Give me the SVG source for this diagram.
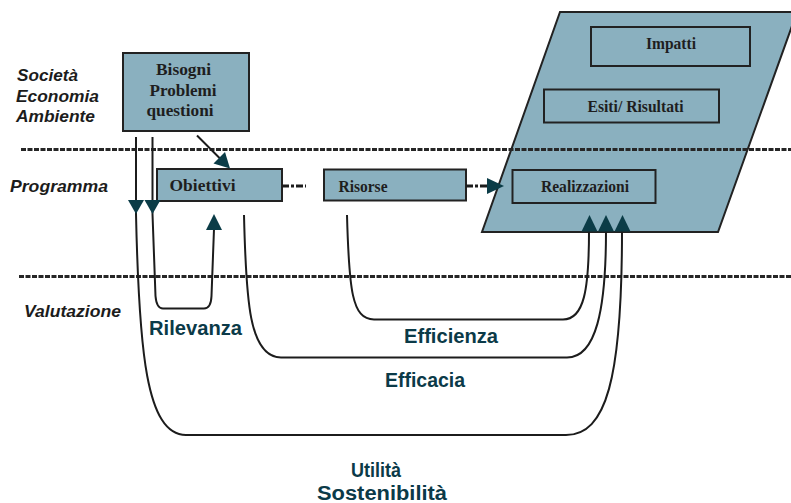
<svg xmlns="http://www.w3.org/2000/svg" width="791" height="503" viewBox="0 0 791 503">
  <style>
    .box { fill: #8ab0bf; stroke: #222; stroke-width: 2; }
    .boxtxt { font-family: "Liberation Serif", "DejaVu Serif", serif; font-weight: bold; font-size: 16px; fill: #1e1e1e; }
    .lvl { font-family: "Liberation Sans", Arial, sans-serif; font-weight: bold; font-style: italic; font-size: 17px; fill: #1c1c1c; }
    .crit { font-family: "Liberation Sans", Arial, sans-serif; font-weight: bold; font-size: 20px; fill: #0b3a48; }
    .sep { stroke: #262626; stroke-width: 3; stroke-dasharray: 5 1.5; fill: none; }
    .line { stroke: #1c1c1c; stroke-width: 2; fill: none; }
    .head { fill: #0b3c47; }
    .flow { stroke: #1c1c1c; stroke-width: 3; fill: none; }
  </style>

  <!-- contextual area: outputs, results and impacts -->
  <g id="contesto">
    <polygon class="box" points="560,12 797,12 718,232 482,232"/>
  </g>

  <!-- level separators -->
  <g id="separatori">
    <line class="sep" x1="21" y1="149.5" x2="791" y2="149.5"/>
    <line class="sep" x1="19" y1="276.5" x2="791" y2="276.5"/>
  </g>

  <!-- level labels -->
  <g id="livelli">
    <text class="lvl" x="17" y="81" textLength="61" lengthAdjust="spacingAndGlyphs">Società</text>
    <text class="lvl" x="16" y="102" textLength="83" lengthAdjust="spacingAndGlyphs">Economia</text>
    <text class="lvl" x="16" y="122" textLength="79" lengthAdjust="spacingAndGlyphs">Ambiente</text>
    <text class="lvl" x="10" y="191.5" textLength="98" lengthAdjust="spacingAndGlyphs">Programma</text>
    <text class="lvl" x="24" y="317" font-size="15.5" textLength="97" lengthAdjust="spacingAndGlyphs">Valutazione</text>
  </g>

  <g id="bisogni">
    <rect class="box" x="123" y="53" width="126" height="78"/>
    <text class="boxtxt" x="183.5" y="75" text-anchor="middle" textLength="55" lengthAdjust="spacingAndGlyphs">Bisogni</text>
    <text class="boxtxt" x="183" y="96" text-anchor="middle" textLength="67" lengthAdjust="spacingAndGlyphs">Problemi</text>
    <text class="boxtxt" x="180" y="116" text-anchor="middle" textLength="67" lengthAdjust="spacingAndGlyphs">questioni</text>
  </g>

  <g id="obiettivi">
    <rect class="box" x="157" y="169" width="125" height="32"/>
    <text class="boxtxt" x="169.5" y="191" textLength="66" lengthAdjust="spacingAndGlyphs">Obiettivi</text>
  </g>

  <g id="risorse">
    <rect class="box" x="324" y="169.5" width="142" height="31"/>
    <text class="boxtxt" x="338.5" y="192" textLength="49" lengthAdjust="spacingAndGlyphs">Risorse</text>
  </g>

  <g id="impatti">
    <rect class="box" x="591" y="27" width="159" height="39"/>
    <text class="boxtxt" x="646" y="49" textLength="50" lengthAdjust="spacingAndGlyphs">Impatti</text>
  </g>

  <g id="esiti">
    <rect class="box" x="544" y="89.5" width="175" height="33"/>
    <text class="boxtxt" x="587.5" y="111.5" textLength="96" lengthAdjust="spacingAndGlyphs">Esiti/ Risultati</text>
  </g>

  <g id="realizzazioni">
    <rect class="box" x="512.5" y="170" width="143" height="33"/>
    <text class="boxtxt" x="541" y="192" textLength="88" lengthAdjust="spacingAndGlyphs">Realizzazioni</text>
  </g>

  <!-- connectors -->
  <g id="connettori">
    <!-- needs to objectives -->
    <line class="line" x1="197" y1="135.5" x2="220" y2="158.5"/>
    <polygon class="head" points="230,168.5 213.5,163.5 225,152"/>

    <!-- objectives .. resources .. outputs -->
    <line class="flow" x1="282" y1="186" x2="306" y2="186" stroke-dasharray="7 2 3 2"/>
    <line class="flow" x1="466" y1="186" x2="489" y2="186" stroke-dasharray="7 2 3 2"/>
    <polygon class="head" points="487,178 487,194 504,186"/>

    <!-- relevance loop -->
    <path class="line" d="M152.5,137 L152.5,214 L155.5,296 Q156.5,308.5 163,308.5 L204,308.5 Q211,308.5 211.5,296 L214,229"/>
    <polygon class="head" points="144.5,200 160.5,200 152.5,214"/>
    <polygon class="head" points="206,230 222,230 214,214"/>

    <!-- utility / sustainability -->
    <path class="line" d="M136,137 L136,214 C139,350 146,435 186,435 L566,435 C606,435 622,380 622,231"/>
    <polygon class="head" points="128,200 144,200 136,214"/>

    <!-- effectiveness -->
    <path class="line" d="M244,215 C246,300 249,357.5 281,357.5 L567,357.5 C596,357.5 606,310 606,231"/>

    <!-- efficiency -->
    <path class="line" d="M347,215 C349,290 352,319.5 374,319.5 L563,319.5 C584,319.5 589,290 589,231"/>

    <polygon class="head" points="581.5,231.5 597.5,231.5 589.5,215"/>
    <polygon class="head" points="598,231.5 614,231.5 606,215"/>
    <polygon class="head" points="614.5,231.5 630.5,231.5 622.5,215"/>
  </g>

  <!-- evaluation criteria -->
  <g id="criteri">
    <text class="crit" x="149" y="335" textLength="93" lengthAdjust="spacingAndGlyphs">Rilevanza</text>
    <text class="crit" x="404" y="343" textLength="94" lengthAdjust="spacingAndGlyphs">Efficienza</text>
    <text class="crit" x="385" y="387" textLength="80" lengthAdjust="spacingAndGlyphs">Efficacia</text>
    <text class="crit" x="351" y="477" font-size="21" textLength="50" lengthAdjust="spacingAndGlyphs">Utilità</text>
    <text class="crit" x="317" y="500" font-size="21" textLength="130" lengthAdjust="spacingAndGlyphs">Sostenibilità</text>
  </g>
</svg>
